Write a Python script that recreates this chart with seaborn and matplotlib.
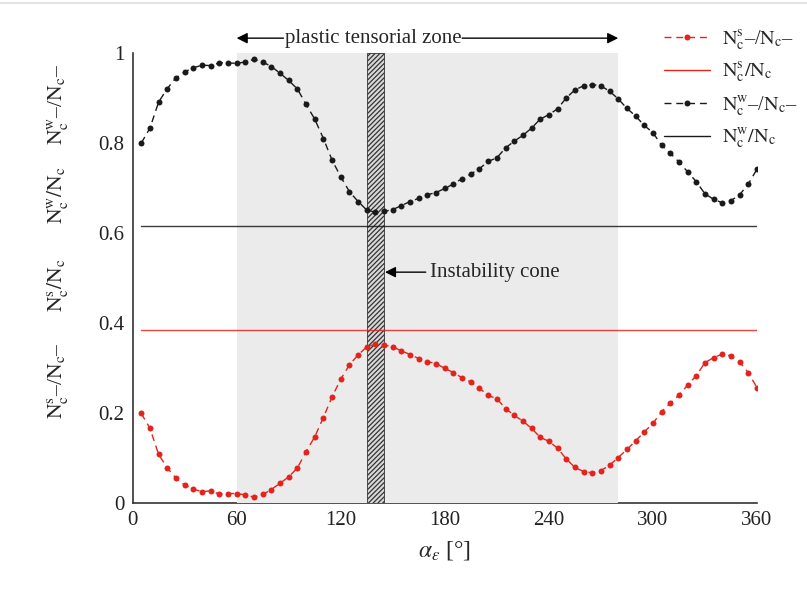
import numpy as np
import pandas as pd
import matplotlib
matplotlib.use("Agg")
import matplotlib.pyplot as plt
from matplotlib.lines import Line2D
import seaborn as sns

# strain-direction angle alpha_eps [deg]
alpha = [5, 10, 15, 20, 25, 30, 35, 40, 45, 50, 55, 60, 65, 70, 75, 80, 85, 90,
         95, 100, 105, 110, 115, 120, 125, 130, 135, 140, 145, 150, 155, 160, 165, 170, 175, 180,
         185, 190, 195, 200, 205, 210, 215, 220, 225, 230, 235, 240, 245, 250, 255, 260, 265, 270,
         275, 280, 285, 290, 295, 300, 305, 310, 315, 320, 325, 330, 335, 340, 345, 350, 355, 360]

# weak-contact fraction of contacts in compression (N^w_c- / N_c-)
weak_minus = [0.800, 0.833, 0.891, 0.921, 0.945, 0.958, 0.967, 0.973, 0.972, 0.978, 0.978, 0.977,
              0.980, 0.986, 0.980, 0.970, 0.955, 0.939, 0.920, 0.886, 0.853, 0.810, 0.762, 0.725,
              0.692, 0.670, 0.651, 0.646, 0.648, 0.652, 0.661, 0.670, 0.677, 0.685, 0.690, 0.699,
              0.709, 0.721, 0.731, 0.743, 0.759, 0.767, 0.789, 0.804, 0.817, 0.833, 0.853, 0.863,
              0.876, 0.900, 0.918, 0.927, 0.930, 0.927, 0.915, 0.898, 0.877, 0.860, 0.839, 0.823,
              0.795, 0.777, 0.758, 0.736, 0.714, 0.687, 0.675, 0.667, 0.672, 0.685, 0.709, 0.742]

# strong-contact fraction of contacts in compression (N^s_c- / N_c-)
strong_minus = [0.199, 0.166, 0.108, 0.078, 0.055, 0.040, 0.031, 0.025, 0.027, 0.020, 0.021, 0.021,
                0.018, 0.013, 0.019, 0.030, 0.044, 0.058, 0.078, 0.114, 0.147, 0.190, 0.236, 0.275,
                0.307, 0.329, 0.347, 0.353, 0.351, 0.347, 0.338, 0.330, 0.321, 0.314, 0.310, 0.299,
                0.290, 0.278, 0.269, 0.255, 0.239, 0.232, 0.210, 0.195, 0.182, 0.166, 0.146, 0.137,
                0.122, 0.098, 0.079, 0.070, 0.067, 0.072, 0.084, 0.101, 0.119, 0.138, 0.158, 0.177,
                0.203, 0.222, 0.240, 0.262, 0.283, 0.312, 0.323, 0.331, 0.327, 0.313, 0.290, 0.256]

# global fractions (constant over alpha)
ratio_x = [5, 360]
strong_ratio = [0.385, 0.385]
weak_ratio = [0.615, 0.615]

plastic_zone = (60, 280)
instability_cone = (135, 145)

xticks = [0, 60, 120, 180, 240, 300, 360]
yticks = [0, 0.2, 0.4, 0.6, 0.8, 1]
ytick_labels = ["0", "0.2", "0.4", "0.6", "0.8", "1"]

labels = [r"$\mathrm{N^{s}_{c}}$–/$\mathrm{N_{c}}$–",
          r"$\mathrm{N^{s}_{c}/N_{c}}$",
          r"$\mathrm{N^{w}_{c}}$–/$\mathrm{N_{c}}$–",
          r"$\mathrm{N^{w}_{c}/N_{c}}$"]

sns.set_style("white")
plt.rcParams["font.family"] = ["Liberation Serif", "DejaVu Serif"]
plt.rcParams["mathtext.fontset"] = "stix"
plt.rcParams["hatch.linewidth"] = 0.9
plt.rcParams["hatch.color"] = "#333333"

RED = "#e3241c"
BLACK = "#1a1a1a"

fig = plt.figure(figsize=(8.07, 5.94), dpi=100)
ax = fig.add_axes([132.6 / 807, 1 - 503 / 594, (757 - 132.6) / 807, 450 / 594])

df = pd.DataFrame({"alpha": alpha, "weak": weak_minus, "strong": strong_minus})
dash = (0, (5, 3.5))

sns.lineplot(data=df, x="alpha", y="strong", ax=ax, color=RED, linestyle=dash, lw=1.0,
             marker="o", markersize=4.3, markeredgewidth=0, zorder=5)
sns.lineplot(x=ratio_x, y=strong_ratio, ax=ax, color=RED, lw=1.0, alpha=0.85, zorder=4)
sns.lineplot(data=df, x="alpha", y="weak", ax=ax, color=BLACK, linestyle=dash, lw=1.0,
             marker="o", markersize=4.3, markeredgewidth=0, zorder=5)
sns.lineplot(x=ratio_x, y=weak_ratio, ax=ax, color=BLACK, lw=1.0, alpha=0.85, zorder=4)

# shaded plastic tensorial zone and hatched instability cone
ax.axvspan(*plastic_zone, ymin=0, ymax=1, facecolor="#ebebeb", edgecolor="none", zorder=2.7)
ax.axvspan(*instability_cone, ymin=0, ymax=1, facecolor="#d9d9d9", edgecolor="#333333",
           hatch="///////", lw=0.6, zorder=3)

ax.set_xlim(0, 360)
ax.set_ylim(0, 1)
ax.set_xticks(xticks)
ax.set_yticks(yticks)
ax.set_yticklabels(ytick_labels)
ax.tick_params(direction="in", length=5, width=1, labelsize=15, colors="#222222", pad=6)
for s in ("top", "right"):
    ax.spines[s].set_visible(False)
for s in ("left", "bottom"):
    ax.spines[s].set_color("#333333")
    ax.spines[s].set_linewidth(1.2)
ax.set_xlabel(r"$\alpha_{\varepsilon}$ [°]", fontsize=17, labelpad=6)
ax.set_ylabel("")

# annotations
ytop = 1.033
ax.text(138.5, ytop, "plastic tensorial zone", ha="center", va="center", fontsize=15,
        clip_on=False)
ax.annotate("", xy=(plastic_zone[0], ytop), xytext=(87, ytop), annotation_clip=False,
            arrowprops=dict(arrowstyle="-|>", color="black", lw=1.0, mutation_scale=16,
                            shrinkA=0, shrinkB=0))
ax.annotate("", xy=(plastic_zone[1], ytop), xytext=(190, ytop), annotation_clip=False,
            arrowprops=dict(arrowstyle="-|>", color="black", lw=1.0, mutation_scale=16,
                            shrinkA=0, shrinkB=0))
ax.text(171.5, 0.513, "Instability cone", ha="left", va="center", fontsize=15)
ax.annotate("", xy=(instability_cone[1] + 0.5, 0.513), xytext=(169, 0.513),
            arrowprops=dict(arrowstyle="-|>", color="black", lw=1.0, mutation_scale=16,
                            shrinkA=0, shrinkB=0))

# stacked y-axis labels
ylab_pos = [(58, 105, labels[2]), (58, 195, labels[3]), (58, 285, labels[1]), (58, 381, labels[0])]
for px, py, lab in ylab_pos:
    fig.text(px / 807, 1 - py / 594, lab, rotation=90, ha="center", va="center", fontsize=15.5)

# legend
handles = [Line2D([], [], color=RED, linestyle=dash, lw=1.0, marker="o", markersize=4.3,
                  markeredgewidth=0),
           Line2D([], [], color=RED, lw=1.0),
           Line2D([], [], color=BLACK, linestyle=dash, lw=1.0, marker="o", markersize=4.3,
                  markeredgewidth=0),
           Line2D([], [], color=BLACK, lw=1.0)]
fig.legend(handles, labels, loc="upper left", bbox_to_anchor=(656 / 807, 1 - 20 / 594),
           frameon=False, fontsize=14.5, handlelength=2.3, handletextpad=0.6, labelspacing=0.45,
           borderaxespad=0)

# faint border line along the top edge
fig.add_artist(Line2D([0, 1], [1 - 3 / 594, 1 - 3 / 594], color="#dddddd", lw=1.2,
                      transform=fig.transFigure))

fig.savefig("out.png", dpi=100)
